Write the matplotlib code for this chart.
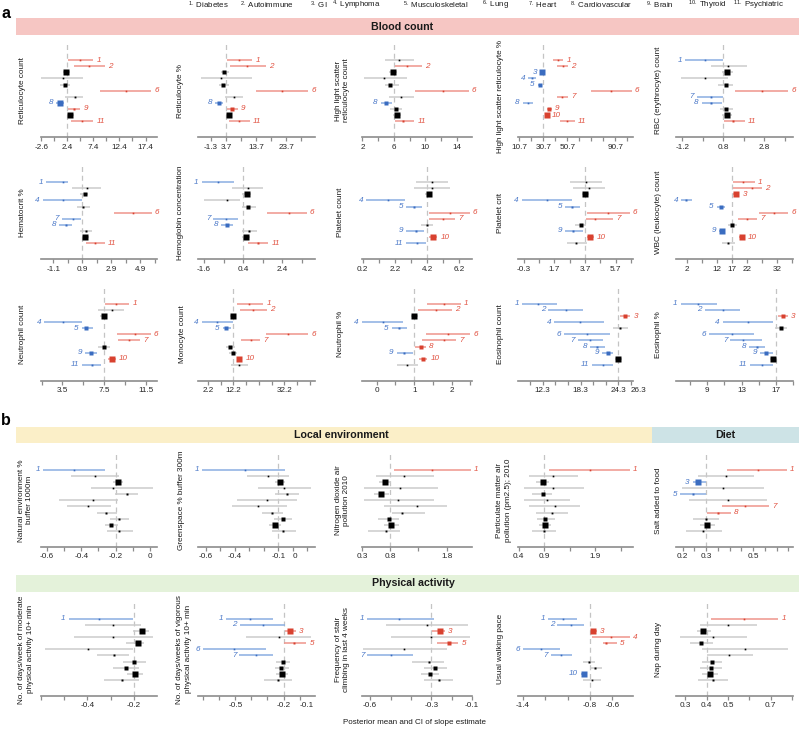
import matplotlib
matplotlib.use("Agg")
import matplotlib.pyplot as plt
from matplotlib.patches import Rectangle
from matplotlib.ticker import FixedLocator, FixedFormatter, MultipleLocator
import numpy as np

plt.rcParams['font.family'] = ['Liberation Sans', 'DejaVu Sans']
plt.rcParams['mathtext.fontset'] = 'custom'
plt.rcParams['mathtext.rm'] = 'Liberation Sans'
plt.rcParams['mathtext.it'] = 'Liberation Sans:italic'

# ---------------- data ----------------
diseases = ["Diabetes", "Autoimmune", "GI", "Lymphoma", "Musculoskeletal", "Lung",
            "Heart", "Cardiovascular", "Brain", "Thyroid", "Psychiatric"]

# Blood count
retic_count_est = [4.9, 6.5, 2.2, 1.5, 1.95, 13.7, 3.8, 1.05, 3.6, 2.9, 5.3]
retic_count_lo = [2.5, 3.6, 1.6, -2.6, 1.0, 8.6, 1.95, 0.3, 2.5, 2.3, 3.1]
retic_count_hi = [7.4, 9.6, 2.9, 5.5, 2.9, 18.5, 5.5, 1.75, 4.9, 3.6, 7.4]
retic_count_sig = [1, 1, 0, 0, 0, 1, 0, -1, 1, 0, 1]

retic_pct_est = [7.9, 10.6, 3.1, 2.0, 2.6, 22.4, 6.2, 1.5, 5.6, 4.6, 8.1]
retic_pct_lo = [3.9, 5.0, 2.0, -4.6, 1.5, 13.5, 3.4, 0.1, 4.0, 3.6, 4.8]
retic_pct_hi = [12.4, 17.0, 4.6, 12.2, 4.8, 30.9, 9.2, 2.8, 7.6, 5.6, 11.7]
retic_pct_sig = [1, 1, 0, 0, 0, 1, 0, -1, 1, 0, 1]

hls_count_est = [6.7, 7.6, 5.9, 4.8, 5.45, 12.2, 6.9, 5.0, 6.3, 6.4, 7.1]
hls_count_lo = [4.9, 6.1, 5.4, 2.2, 4.9, 8.7, 5.4, 4.3, 5.5, 5.9, 6.1]
hls_count_hi = [8.6, 9.5, 6.4, 7.6, 6.6, 15.5, 8.5, 5.8, 7.0, 6.9, 8.6]
hls_count_sig = [0, 1, 0, 0, 0, 1, 0, -1, 0, 0, 1]

hls_pct_est = [43.2, 46.9, 29.4, 21.0, 28.0, 86.9, 46.5, 17.7, 35.7, 33.5, 50.2]
hls_pct_lo = [39.0, 41.9, 27.9, 18.2, 26.0, 70.2, 41.9, 13.5, 34.0, 32.6, 44.6]
hls_pct_hi = [47.4, 51.5, 30.2, 24.6, 29.4, 104.4, 51.5, 21.9, 37.7, 35.0, 57.1]
hls_pct_sig = [1, 1, -1, -1, -1, 1, 1, -1, 1, 1, 1]

rbc_est = [-0.09, 1.04, 1.0, -0.09, 0.93, 2.7, 0.19, 0.19, 0.93, 0.97, 1.29]
rbc_lo = [-1.07, 0.19, 0.72, -1.28, 0.56, 1.37, -0.5, -0.25, 0.64, 0.74, 0.83]
rbc_hi = [0.78, 1.94, 1.26, 1.04, 1.29, 3.97, 0.76, 0.72, 1.29, 1.2, 1.86]
rbc_sig = [-1, 0, 0, 0, 0, 1, -1, -1, 0, 0, 1]

hct_est = [-0.45, 1.22, 1.06, -0.45, 0.94, 4.41, 0.25, -0.21, 1.18, 1.08, 1.8]
hct_lo = [-1.6, 0.2, 0.71, -1.84, 0.52, 3.07, -0.52, -0.68, 0.71, 0.88, 1.13]
hct_hi = [-0.1, 2.2, 1.29, 0.85, 1.46, 5.7, 0.83, 0.2, 1.57, 1.34, 2.45]
hct_sig = [-1, 0, 0, -1, 0, 1, -1, -1, 0, 0, 1]

hgb_est = [-0.88, 0.62, 0.57, -0.45, 0.66, 2.75, -0.48, -0.45, 0.71, 0.54, 1.17]
hgb_lo = [-1.72, -0.19, 0.35, -1.6, 0.32, 1.59, -1.13, -0.74, 0.32, 0.32, 0.66]
hgb_hi = [-0.06, 1.42, 0.79, 0.23, 1.03, 3.63, 0.14, -0.11, 1.08, 0.74, 1.68]
hgb_sig = [-1, 0, 0, 0, 0, 1, -1, -1, 0, 0, 1]

plt_count_est = [4.5, 4.54, 4.3, 1.8, 3.4, 5.65, 5.2, 4.2, 3.5, 4.6, 3.6]
plt_count_lo = [3.5, 3.4, 4.1, 0.4, 2.9, 4.34, 4.34, 3.8, 2.9, 4.33, 2.9]
plt_count_hi = [5.5, 5.6, 4.54, 2.8, 3.9, 6.85, 5.93, 4.6, 4.0, 4.85, 4.15]
plt_count_sig = [0, 0, 0, -1, -1, 1, 1, 0, -1, 1, -1]

plt_crit_est = [3.75, 3.98, 3.7, 1.2, 2.83, 5.22, 4.35, 3.44, 2.94, 4.03, 3.09]
plt_crit_lo = [2.72, 2.94, 3.48, -0.44, 2.39, 3.85, 3.75, 3.05, 2.39, 3.8, 2.5]
plt_crit_hi = [4.79, 5.0, 3.98, 2.83, 3.37, 6.64, 5.55, 3.75, 3.55, 4.29, 3.81]
plt_crit_sig = [0, 0, 0, -1, -1, 1, 1, 0, -1, 1, 0]

wbc_est = [20.9, 23.7, 18.4, 1.7, 13.3, 31.1, 22.0, 17.2, 13.7, 20.3, 15.9]
wbc_lo = [17.3, 17.5, 17.5, 0.1, 12.0, 26.2, 19.2, 15.9, 12.8, 19.5, 13.7]
wbc_hi = [24.8, 27.0, 19.5, 3.7, 14.8, 35.9, 25.3, 18.9, 14.8, 21.2, 18.1]
wbc_sig = [1, 1, 1, -1, -1, 1, 1, 0, -1, 1, 0]

neut_count_est = [8.65, 8.24, 7.5, 3.53, 5.77, 10.48, 9.93, 7.53, 6.22, 8.24, 6.32]
neut_count_lo = [7.55, 6.95, 7.12, 1.76, 5.36, 8.78, 8.88, 6.95, 5.67, 7.91, 5.36]
neut_count_hi = [9.93, 9.42, 7.82, 5.36, 6.41, 12.0, 10.96, 8.08, 6.8, 8.65, 7.21]
neut_count_sig = [1, 0, 0, -1, -1, 1, 1, 0, -1, 1, -1]

mono_est = [18.5, 20.0, 11.95, 5.7, 9.3, 33.8, 19.1, 10.9, 11.95, 14.55, 14.4]
mono_lo = [13.8, 14.8, 10.9, -0.2, 8.0, 24.9, 15.2, 9.3, 10.6, 13.5, 11.3]
mono_hi = [24.0, 25.3, 13.3, 11.9, 11.2, 41.6, 22.7, 12.9, 13.8, 15.7, 18.1]
mono_sig = [1, 1, 0, -1, -1, 1, 1, 0, 0, 1, 0]

neut_pct_est = [1.79, 1.57, 1.0, 0.17, 0.59, 1.91, 1.79, 1.17, 0.73, 1.24, 0.8]
neut_pct_lo = [1.33, 1.11, 0.91, -0.39, 0.4, 1.31, 1.2, 1.03, 0.53, 1.13, 0.53]
neut_pct_hi = [2.24, 2.02, 1.09, 0.71, 0.8, 2.49, 2.11, 1.32, 0.96, 1.35, 1.09]
neut_pct_sig = [1, 1, 0, -1, -1, 1, 1, 1, -1, 1, 0]

eos_count_est = [11.6, 15.95, 25.4, 18.2, 24.6, 19.3, 19.8, 20.9, 22.7, 24.3, 21.8]
eos_count_lo = [9.0, 13.2, 24.6, 14.1, 23.5, 15.7, 17.9, 19.8, 21.7, 23.8, 20.1]
eos_count_hi = [14.5, 18.7, 26.2, 22.0, 25.8, 22.9, 21.8, 22.1, 23.5, 24.9, 23.5]
eos_count_sig = [-1, -1, 1, -1, 0, -1, -1, -1, -1, 0, -1]

eos_pct_est = [7.95, 10.8, 17.8, 13.7, 17.6, 11.85, 13.2, 14.8, 15.9, 16.7, 15.35]
eos_pct_lo = [5.9, 8.7, 17.3, 10.8, 16.9, 9.2, 11.7, 13.9, 15.2, 16.3, 14.0]
eos_pct_hi = [10.1, 12.8, 18.4, 16.65, 18.3, 14.5, 15.35, 15.7, 16.65, 17.2, 16.65]
eos_pct_sig = [-1, -1, 1, -1, 0, -1, -1, -1, -1, 0, -1]

# Local environment / Diet
natenv_est = [-0.44, -0.32, -0.185, -0.217, -0.136, -0.33, -0.359, -0.256, -0.179, -0.227, -0.181]
natenv_lo = [-0.62, -0.461, -0.214, -0.345, -0.204, -0.527, -0.484, -0.31, -0.233, -0.262, -0.252]
natenv_hi = [-0.262, -0.181, -0.156, 0.015, -0.069, -0.185, -0.229, -0.194, -0.121, -0.185, -0.098]
natenv_sig = [-1, 0, 0, 0, 0, 0, 0, 0, 0, 0, 0]

green_est = [-0.33, -0.169, -0.088, -0.059, -0.038, -0.18, -0.242, -0.146, -0.07, -0.123, -0.066]
green_lo = [-0.624, -0.318, -0.123, -0.238, -0.123, -0.383, -0.417, -0.214, -0.13, -0.162, -0.146]
green_hi = [-0.054, -0.024, -0.054, 0.123, 0.045, 0.027, -0.042, -0.07, -0.008, -0.083, 0.022]
green_sig = [-1, 0, 0, 0, 0, 0, 0, 0, 0, 0, 0]

no2_est = [1.54, 1.05, 0.70, 0.97, 0.63, 0.94, 1.28, 1.01, 0.78, 0.82, 0.72]
no2_lo = [0.87, 0.55, 0.6, 0.33, 0.52, 0.33, 0.69, 0.84, 0.58, 0.69, 0.4]
no2_hi = [2.23, 1.57, 0.82, 1.64, 0.78, 1.57, 1.8, 1.42, 0.95, 0.95, 0.98]
no2_sig = [1, 0, 0, 0, 0, 0, 0, 0, 0, 0, 0]

pm25_est = [1.79, 1.08, 0.87, 1.08, 0.87, 0.95, 1.11, 1.05, 0.92, 0.91, 0.9]
pm25_lo = [1.0, 0.61, 0.74, 0.5, 0.67, 0.51, 0.61, 0.74, 0.76, 0.8, 0.67]
pm25_hi = [2.58, 1.57, 1.0, 1.68, 1.06, 1.4, 1.61, 1.37, 1.11, 1.03, 1.13]
pm25_sig = [1, 0, 0, 0, 0, 0, 0, 0, 0, 0, 0]

salt_est = [0.52, 0.385, 0.265, 0.371, 0.246, 0.395, 0.466, 0.352, 0.3, 0.306, 0.289]
salt_lo = [0.388, 0.265, 0.243, 0.197, 0.189, 0.229, 0.367, 0.302, 0.243, 0.274, 0.215]
salt_hi = [0.643, 0.506, 0.298, 0.547, 0.298, 0.561, 0.569, 0.406, 0.357, 0.338, 0.367]
salt_sig = [1, 0, -1, 0, -1, 0, 1, 1, 0, 0, 0]

# Physical activity
moderate_est = [-0.349, -0.289, -0.167, -0.289, -0.181, -0.398, -0.284, -0.2, -0.236, -0.196, -0.253]
moderate_lo = [-0.481, -0.41, -0.203, -0.46, -0.234, -0.584, -0.36, -0.246, -0.289, -0.229, -0.328]
moderate_hi = [-0.206, -0.17, -0.134, -0.12, -0.156, -0.206, -0.22, -0.15, -0.177, -0.16, -0.177]
moderate_sig = [-1, 0, 0, 0, 0, 0, 0, 0, 0, 0, 0]

vigorous_est = [-0.412, -0.331, -0.158, -0.231, -0.137, -0.506, -0.373, -0.206, -0.214, -0.21, -0.235]
vigorous_lo = [-0.558, -0.471, -0.194, -0.433, -0.198, -0.7, -0.475, -0.25, -0.255, -0.245, -0.321]
vigorous_hi = [-0.266, -0.194, -0.121, -0.029, -0.058, -0.31, -0.266, -0.16, -0.168, -0.175, -0.148]
vigorous_sig = [-1, -1, 1, 0, 1, -1, -1, 0, 0, 0, 0]

stairs_est = [-0.456, -0.321, -0.256, -0.301, -0.212, -0.432, -0.5, -0.313, -0.28, -0.305, -0.264]
stairs_lo = [-0.614, -0.52, -0.297, -0.497, -0.272, -0.633, -0.614, -0.394, -0.334, -0.35, -0.338]
stairs_hi = [-0.289, -0.118, -0.232, -0.11, -0.167, -0.223, -0.389, -0.237, -0.223, -0.26, -0.191]
stairs_sig = [-1, 0, 1, 0, 1, 0, -1, 0, 0, 0, 0]

walk_est = [-1.044, -0.97, -0.77, -0.613, -0.66, -1.238, -1.059, -0.809, -0.755, -0.854, -0.785]
walk_lo = [-1.172, -1.092, -0.794, -0.785, -0.681, -1.40, -1.148, -0.86, -0.8, -0.88, -0.86]
walk_hi = [-0.919, -0.851, -0.74, -0.443, -0.562, -1.068, -0.963, -0.755, -0.696, -0.824, -0.702]
walk_sig = [-1, -1, 1, 1, 1, -1, -1, 0, 0, -1, 0]

nap_est = [0.577, 0.502, 0.384, 0.431, 0.373, 0.58, 0.506, 0.423, 0.419, 0.415, 0.431]
nap_lo = [0.419, 0.369, 0.353, 0.275, 0.322, 0.377, 0.4, 0.377, 0.369, 0.377, 0.361]
nap_hi = [0.736, 0.638, 0.419, 0.588, 0.428, 0.783, 0.616, 0.47, 0.47, 0.455, 0.502]
nap_sig = [1, 0, 0, 0, 0, 0, 0, 0, 0, 0, 0]

# ---------------- panel specs ----------------
W, H = 799, 729
COL_L = [41, 198, 362, 518, 676]
COL_R = [157, 315, 472, 633, 793]
ROW_B = [137, 259, 380.7, 546.7, 695.7]
ROW_STEP = 6.1
YTOP, YBOT = -1.6, 13.6

# (row, col, ylabel, ylabel_x_px, ylabel_dy_px, ref, est, lo, hi, sig, xlim, ticks, minor_step)
panels = [
    (0, 0, "Reticulocyte count", 22.5, 0, 2.4, retic_count_est, retic_count_lo, retic_count_hi, retic_count_sig,
     (-2.65, 19.6), [-2.6, 2.4, 7.4, 12.4, 17.4], 2.5),
    (0, 1, "Reticulocyte %", 181, 0, 3.7, retic_pct_est, retic_pct_lo, retic_pct_hi, retic_pct_sig,
     (-5.6, 33.2), [-1.3, 3.7, 13.7, 23.7], 5),
    (0, 2, "High light scatter\nreticulocyte count", 342.5, 0, 6, hls_count_est, hls_count_lo, hls_count_hi, hls_count_sig,
     (1.95, 15.9), [2, 6, 10, 14], 2),
    (0, 3, "High light scatter reticulocyte %", 500, 6, 30.7, hls_pct_est, hls_pct_lo, hls_pct_hi, hls_pct_sig,
     (9.6, 105.5), [10.7, 30.7, 50.7, 90.7], 10),
    (0, 4, "RBC (erythrocyte) count", 658, 0, 0.8, rbc_est, rbc_lo, rbc_hi, rbc_sig,
     (-1.51, 4.2), [-1.2, 0.8, 2.8], 1),
    (1, 0, "Hematocrit %", 22, 0, 0.9, hct_est, hct_lo, hct_hi, hct_sig,
     (-1.95, 6.05), [-1.1, 0.9, 2.9, 4.9], 1),
    (1, 1, "Hemoglobin concentration", 180, 0, 0.4, hgb_est, hgb_lo, hgb_hi, hgb_sig,
     (-1.91, 4.06), [-1.6, 0.4, 2.4], 1),
    (1, 2, "Platelet count", 340, 0, 4.2, plt_count_est, plt_count_lo, plt_count_hi, plt_count_sig,
     (0.15, 7.0), [0.2, 2.2, 4.2, 6.2], 1),
    (1, 3, "Platelet crit", 500, 0, 3.7, plt_crit_est, plt_crit_lo, plt_crit_hi, plt_crit_sig,
     (-0.68, 6.84), [-0.3, 1.7, 3.7, 5.7], 1),
    (1, 4, "WBC (leukocyte) count", 658, 0, 17, wbc_est, wbc_lo, wbc_hi, wbc_sig,
     (-1.57, 37.4), [2, 12, 17, 22, 32], 5),
    (2, 0, "Neutrophil count", 22, 0, 7.5, neut_count_est, neut_count_lo, neut_count_hi, neut_count_sig,
     (1.44, 12.6), [3.5, 7.5, 11.5], 2),
    (2, 1, "Monocyte count", 182, 0, 12.2, mono_est, mono_lo, mono_hi, mono_sig,
     (-1.64, 44.2), [2.2, 12.2, 32.2], 5),
    (2, 2, "Neutrophil %", 340, 0, 1, neut_pct_est, neut_pct_lo, neut_pct_hi, neut_pct_sig,
     (-0.39, 2.54), [0, 1, 2], 0.5),
    (2, 3, "Eosinophil count", 500, 0, 24.3, eos_count_est, eos_count_lo, eos_count_hi, eos_count_sig,
     (8.38, 26.6), [12.3, 18.3, 24.3, 26.3], 2),
    (2, 4, "Eosinophil %", 658, 0, 17, eos_pct_est, eos_pct_lo, eos_pct_hi, eos_pct_sig,
     (5.34, 19.02), [9, 13, 17], 2),
    (3, 0, "Natural environment %\nbuffer 1000m", 25.5, 0, -0.2, natenv_est, natenv_lo, natenv_hi, natenv_sig,
     (-0.633, 0.039), [-0.6, -0.4, -0.2, 0], 0.1),
    (3, 1, "Greenspace % buffer 300m", 181.5, 0, -0.1, green_est, green_lo, green_hi, green_sig,
     (-0.654, 0.153), [-0.6, -0.4, -0.1, 0], 0.1),
    (3, 2, "Nitrogen dioxide air\npollution 2010", 342.5, 0, 0.8, no2_est, no2_lo, no2_hi, no2_sig,
     (0.3, 2.25), [0.3, 0.8, 1.8], 0.5),
    (3, 3, "Particulate matter air\npollution (pm2.5); 2010", 504, 0, 0.9, pm25_est, pm25_lo, pm25_hi, pm25_sig,
     (0.39, 2.64), [0.4, 0.9, 1.9], 0.5),
    (3, 4, "Salt added to food", 658, 0, 0.3, salt_est, salt_lo, salt_hi, salt_sig,
     (0.172, 0.67), [0.2, 0.3, 0.5], 0.05),
    (4, 0, "No. of days/week of moderate\nphysical activity 10+ min", 26, 0, -0.2, moderate_est, moderate_lo, moderate_hi, moderate_sig,
     (-0.6, -0.101), [-0.4, -0.2], 0.1),
    (4, 1, "No. of days/weeks of vigorous\nphysical activity 10+ min", 184, 0, -0.2, vigorous_est, vigorous_lo, vigorous_hi, vigorous_sig,
     (-0.733, -0.004), [-0.5, -0.2, -0.1], 0.1),
    (4, 2, "Frequency of stair\nclimbing in last 4 weeks", 342.5, 0, -0.3, stairs_est, stairs_lo, stairs_hi, stairs_sig,
     (-0.64, -0.1), [-0.6, -0.3, -0.1], 0.1),
    (4, 3, "Usual walking pace", 500, 0, -0.8, walk_est, walk_lo, walk_hi, walk_sig,
     (-1.443, -0.416), [-1.4, -0.8, -0.6], 0.2),
    (4, 4, "Nap during day", 658, 0, 0.4, nap_est, nap_lo, nap_hi, nap_sig,
     (0.256, 0.805), [0.3, 0.4, 0.5, 0.7], 0.1),
]

RED_PT, RED_LN, RED_TX = "#d8412f", "#ef958b", "#e1503f"
BLUE_PT, BLUE_LN, BLUE_TX = "#3a6cc0", "#8aaee2", "#4a78c8"
GREY_LN, BLACK_PT = "#cbcbcb", "#000000"
AXIS_COL = "#8c8c8c"

fig = plt.figure(figsize=(W / 100, H / 100), dpi=100)


def fx(x):
    return x / W


def fy(y):
    return 1 - y / H


def banner(x0, x1, y0, y1, color, text, tx):
    fig.add_artist(Rectangle((fx(x0), fy(y1)), (x1 - x0) / W, (y1 - y0) / H,
                             transform=fig.transFigure, facecolor=color, edgecolor="none", zorder=0))
    fig.text(fx(tx), fy((y0 + y1) / 2), text, ha="center", va="center",
             fontsize=7.7, fontweight="bold", color="#1a1a1a")


banner(16, 799, 18.3, 35, "#f6c6c3", "Blood count", 402)
banner(16, 652, 426.7, 443.3, "#fbefc8", "Local environment", 341)
banner(652, 799, 426.7, 443.3, "#cde3e6", "Diet", 725)
banner(16, 799, 574.5, 591.5, "#e4f2da", "Physical activity", 413)

fig.text(fx(1), fy(14), "a", fontsize=11.5, fontweight="bold", ha="left", va="center")
fig.text(fx(1), fy(420), "b", fontsize=11.5, fontweight="bold", ha="left", va="center")

legend_x = [188.3, 240, 310, 331.7, 403.3, 481.7, 528.3, 570, 646, 688.3, 733.3]
for i, (name, lx) in enumerate(zip(diseases, legend_x)):
    fig.text(fx(lx), fy(5.5), r"$^{%d.}$ %s" % (i + 1, name), fontsize=5.7,
             ha="left", va="center", color="#1a1a1a")

fig.text(fx(415), fy(722), "Posterior mean and CI of slope estimate",
         fontsize=5.8, ha="center", va="center", color="#1a1a1a")


def msizes(lo, hi):
    w = np.array(hi) - np.array(lo)
    s = 4.4 * (w.min() / w) ** 1.2
    return np.clip(s, 1.2, 4.4)


def fmt(v):
    return ("%g" % v)


for (r, c, ylab, ylx, yldy, ref, est, lo, hi, sig, xlim, ticks, step) in panels:
    left, right = COL_L[c], COL_R[c]
    bottom = ROW_B[r]
    height = (YBOT - YTOP) * ROW_STEP
    ax = fig.add_axes([fx(left), fy(bottom), (right - left) / W, height / H])
    ax.set_xlim(*xlim)
    ax.set_ylim(YBOT, YTOP)
    ax.patch.set_alpha(0)
    for s in ["top", "left", "right"]:
        ax.spines[s].set_visible(False)
    ax.spines["bottom"].set_color(AXIS_COL)
    ax.spines["bottom"].set_linewidth(1.2)
    ax.set_yticks([])
    ax.xaxis.set_major_locator(FixedLocator(ticks))
    ax.xaxis.set_major_formatter(FixedFormatter([fmt(t) for t in ticks]))
    ax.xaxis.set_minor_locator(MultipleLocator(step, offset=ref))
    ax.tick_params(axis="x", which="both", length=2.6, width=0.9, color=AXIS_COL,
                   labelsize=5.9, labelcolor="#262626", pad=2.2)
    # keep a tick label sitting at the very end of the axis clear of its neighbour
    if ticks[-1] - ticks[-2] < 0.15 * (xlim[1] - xlim[0]):
        ax.xaxis.get_major_ticks()[len(ticks) - 1].label1.set_horizontalalignment("left")
    ax.axvline(ref, color="#c4c4c4", lw=0.9, ls=(0, (4, 3)), zorder=0)

    ys = np.arange(1, 12)
    sizes = msizes(lo, hi)
    for i in range(11):
        y = ys[i]
        if sig[i] > 0:
            lc, pc, tc = RED_LN, RED_PT, RED_TX
        elif sig[i] < 0:
            lc, pc, tc = BLUE_LN, BLUE_PT, BLUE_TX
        else:
            lc, pc, tc = GREY_LN, BLACK_PT, None
        ax.plot([lo[i], hi[i]], [y, y], color=lc, lw=1.1, solid_capstyle="butt",
                zorder=2, clip_on=False)
        ax.plot([est[i]], [y], marker="s", ms=sizes[i], color=pc, mec="none",
                zorder=3, clip_on=False)
        if sig[i] > 0:
            ax.annotate(str(i + 1), xy=(hi[i], y), xytext=(2.2, 0), textcoords="offset points",
                        ha="left", va="center", fontsize=5.9, style="italic", color=tc,
                        annotation_clip=False)
        elif sig[i] < 0:
            ax.annotate(str(i + 1), xy=(lo[i], y), xytext=(-2.2, 0), textcoords="offset points",
                        ha="right", va="center", fontsize=5.9, style="italic", color=tc,
                        annotation_clip=False)

    fig.text(fx(ylx), fy(bottom - height / 2 + yldy), ylab, rotation=90, ha="center", va="center",
             multialignment="center", fontsize=5.9, color="#1a1a1a", linespacing=1.3)

fig.savefig("out.png", dpi=100)
